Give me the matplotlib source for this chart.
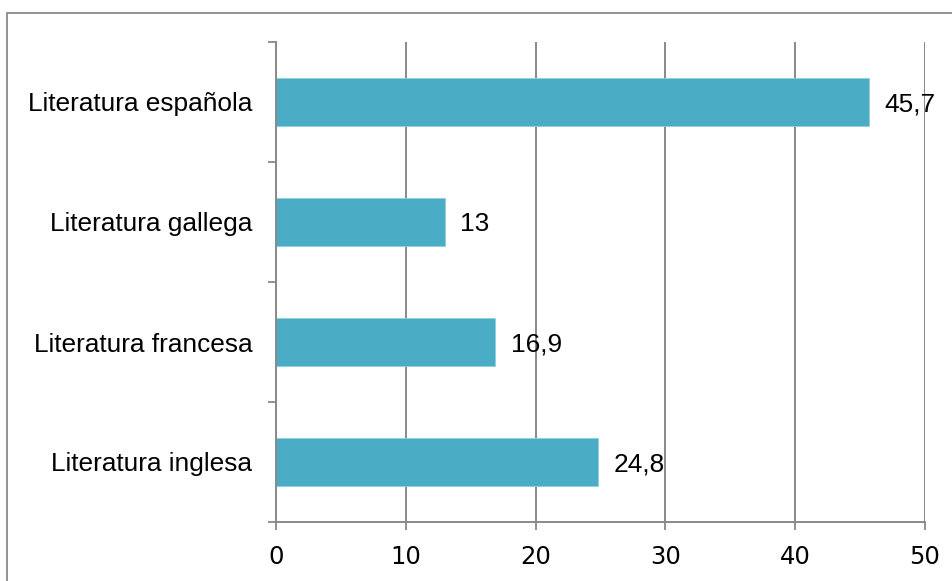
import matplotlib
matplotlib.use("Agg")
import matplotlib.pyplot as plt
from matplotlib.patches import Rectangle

categories = ["Literatura inglesa", "Literatura francesa", "Literatura gallega", "Literatura española"]
values = [24.8, 16.9, 13, 45.7]
value_labels = ["24,8", "16,9", "13", "45,7"]
x_ticks = [0, 10, 20, 30, 40, 50]

bar_color = "#4BACC6"
line_color = "#898989"

fig = plt.figure(figsize=(9.53, 5.81), dpi=100)
ax = fig.add_axes([276 / 953, 1 - 522 / 581, (925 - 276) / 953, (522 - 42) / 581])

ypos = list(range(len(categories)))
ax.barh(ypos, values, height=0.4, color=bar_color, edgecolor="#8fd0e0", linewidth=0.6, zorder=3)

ax.set_xlim(0, 50)
ax.set_ylim(-0.5, len(categories) - 0.5)
ax.set_xticks(x_ticks)
ax.set_xticklabels([str(t) for t in x_ticks], fontfamily="DejaVu Sans", fontsize=17.5)

# category labels centred on bars, tick marks at category boundaries
ax.set_yticks(ypos)
ax.set_yticklabels(categories, fontfamily="Liberation Sans", fontsize=18.9)
ax.tick_params(axis="y", which="major", length=0, pad=17)
ax.set_yticks([i - 0.5 for i in range(len(categories) + 1)], minor=True)
ax.tick_params(axis="y", which="minor", length=5.8, width=1.3, color=line_color, direction="out")
ax.tick_params(axis="x", length=5.8, width=1.3, color=line_color, direction="out", pad=11)

ax.grid(axis="x", color=line_color, linewidth=1.4, zorder=0)
for side in ("top", "right"):
    ax.spines[side].set_visible(False)
for side in ("left", "bottom"):
    ax.spines[side].set_color(line_color)
    ax.spines[side].set_linewidth(1.4)
ax.spines["left"].set_zorder(4)

for y, v, lab in zip(ypos, values, value_labels):
    ax.annotate(lab, xy=(v, y), xytext=(11, -1.5), textcoords="offset points",
                ha="left", va="center", fontfamily="Liberation Sans", fontsize=18.9,
                annotation_clip=False, zorder=5)

# outer frame of the chart area
fig.patches.append(Rectangle((7 / 953, -0.1), 1.2, 1 - 13 / 581 + 0.1,
                             transform=fig.transFigure, fill=False,
                             edgecolor=line_color, linewidth=1.3))

fig.savefig("out.png", dpi=100, facecolor="white")
